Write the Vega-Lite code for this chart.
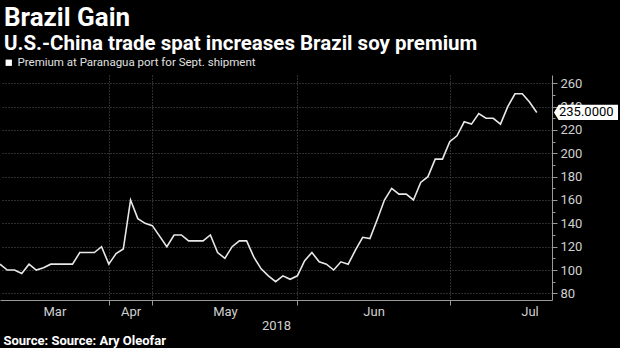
{
  "$schema": "https://vega.github.io/schema/vega-lite/v6.json",
  "width": 552,
  "height": 225,
  "autosize": {"type": "none"},
  "padding": {"left": 0, "top": 75, "right": 68, "bottom": 48},
  "background": "#000000",
  "config": {
    "view": {"stroke": null},
    "font": "Roboto"
  },
  "title": {
    "text": "Brazil Gain",
    "subtitle": "U.S.-China trade spat increases Brazil soy premium",
    "anchor": "start",
    "frame": "group",
    "dx": 4,
    "offset": 3,
    "font": "Roboto",
    "fontSize": 26,
    "fontWeight": "bold",
    "color": "#ffffff",
    "subtitleFont": "Roboto",
    "subtitleFontSize": 20.5,
    "subtitleFontWeight": "bold",
    "subtitleColor": "#ffffff",
    "subtitlePadding": 3
  },
  "data": {
    "values": [
      {"i": 0, "v": 105}, {"i": 1, "v": 100}, {"i": 2, "v": 100}, {"i": 3, "v": 97}, {"i": 4, "v": 105},
      {"i": 5, "v": 100}, {"i": 6, "v": 102}, {"i": 7, "v": 105}, {"i": 8, "v": 105}, {"i": 9, "v": 105},
      {"i": 10, "v": 105}, {"i": 11, "v": 115}, {"i": 12, "v": 115}, {"i": 13, "v": 115}, {"i": 14, "v": 120},
      {"i": 15, "v": 105}, {"i": 16, "v": 114}, {"i": 17, "v": 118}, {"i": 18, "v": 160}, {"i": 19, "v": 144},
      {"i": 20, "v": 140}, {"i": 21, "v": 138}, {"i": 22, "v": 129}, {"i": 23, "v": 120}, {"i": 24, "v": 130},
      {"i": 25, "v": 130}, {"i": 26, "v": 125}, {"i": 27, "v": 125}, {"i": 28, "v": 125}, {"i": 29, "v": 130},
      {"i": 30, "v": 115}, {"i": 31, "v": 110}, {"i": 32, "v": 120}, {"i": 33, "v": 125}, {"i": 34, "v": 125},
      {"i": 35, "v": 111}, {"i": 36, "v": 101}, {"i": 37, "v": 95}, {"i": 38, "v": 90}, {"i": 39, "v": 95},
      {"i": 40, "v": 92}, {"i": 41, "v": 95}, {"i": 42, "v": 108}, {"i": 43, "v": 115}, {"i": 44, "v": 107},
      {"i": 45, "v": 105}, {"i": 46, "v": 100}, {"i": 47, "v": 107}, {"i": 48, "v": 105}, {"i": 49, "v": 117},
      {"i": 50, "v": 128}, {"i": 51, "v": 127}, {"i": 52, "v": 143}, {"i": 53, "v": 160}, {"i": 54, "v": 170},
      {"i": 55, "v": 165}, {"i": 56, "v": 165}, {"i": 57, "v": 160}, {"i": 58, "v": 175}, {"i": 59, "v": 180},
      {"i": 60, "v": 195}, {"i": 61, "v": 195}, {"i": 62, "v": 210}, {"i": 63, "v": 215}, {"i": 64, "v": 227},
      {"i": 65, "v": 225}, {"i": 66, "v": 234}, {"i": 67, "v": 230}, {"i": 68, "v": 230}, {"i": 69, "v": 225},
      {"i": 70, "v": 240}, {"i": 71, "v": 251}, {"i": 72, "v": 251}, {"i": 73, "v": 244}, {"i": 74, "v": 235}
    ]
  },
  "resolve": {"axis": {"y": "independent"}},
  "layer": [
    {
      "mark": {"type": "line", "strokeWidth": 1.6, "clip": true},
      "encoding": {
        "x": {
          "field": "i",
          "type": "quantitative",
          "scale": {"domain": [0, 76.1], "nice": false, "zero": false},
          "axis": {
            "values": [7.5, 15, 18, 21, 31, 41, 51.5, 62, 73],
            "labelExpr": "datum.value == 7.5 ? 'Mar' : datum.value == 18 ? 'Apr' : datum.value == 31 ? 'May' : datum.value == 51.5 ? 'Jun' : datum.value == 73 ? 'Jul' : ''",
            "labelOverlap": false,
            "labelFlush": false,
            "labelBound": false,
            "labelFont": "Roboto",
            "labelFontSize": 13,
            "labelColor": "#d0d0d0",
            "labelPadding": 0,
            "domainColor": "#9a9a9a",
            "domainWidth": 1,
            "tickColor": "#9a9a9a",
            "tickSize": 5,
            "tickOpacity": {"condition": {"test": "indexof([15,21,41,62], datum.value) >= 0", "value": 1}, "value": 0},
            "grid": true,
            "gridColor": "#5a5a5a",
            "gridDash": [1, 2],
            "gridOpacity": {"condition": {"test": "indexof([15,21,41,62], datum.value) >= 0", "value": 1}, "value": 0},
            "title": "2018",
            "titleFont": "Roboto",
            "titleFontSize": 13,
            "titleFontWeight": "normal",
            "titleColor": "#d0d0d0",
            "titlePadding": 1
          }
        },
        "y": {
          "field": "v",
          "type": "quantitative",
          "scale": {"domain": [74.3, 267.1], "nice": false, "zero": false},
          "axis": {
            "orient": "right",
            "values": [80, 100, 120, 140, 160, 180, 200, 220, 240, 260],
            "labelOverlap": false,
            "labelFont": "Roboto",
            "labelFontSize": 13,
            "labelColor": "#d0d0d0",
            "labelPadding": 3,
            "domainColor": "#9a9a9a",
            "tickColor": "#9a9a9a",
            "tickSize": 5,
            "grid": true,
            "gridColor": "#5a5a5a",
            "gridDash": [1, 2],
            "title": "Source: Source: Ary Oleofar",
            "titleAngle": 0,
            "titleAlign": "left",
            "titleBaseline": "alphabetic",
            "titleX": -549,
            "titleY": 269,
            "titleFont": "Roboto",
            "titleFontSize": 13,
            "titleFontWeight": "bold",
            "titleColor": "#ffffff"
          }
        },
        "color": {
          "datum": "Premium at Paranagua port for Sept. shipment",
          "scale": {"range": ["#e8e8e8"]},
          "legend": {
            "orient": "none",
            "legendX": 3,
            "legendY": -18,
            "title": null,
            "padding": 0,
            "symbolType": "square",
            "symbolSize": 40,
            "symbolFillColor": "#ffffff",
            "symbolStrokeColor": "#ffffff",
            "symbolStrokeWidth": 0,
            "labelFont": "Roboto",
            "labelFontSize": 11.5,
            "labelColor": "#e0e0e0",
            "labelOffset": 3,
            "labelLimit": 500
          }
        }
      }
    },
    {
      "transform": [{"filter": "datum.i == 74"}],
      "mark": {
        "type": "point",
        "shape": "M0.06,0 L0.2,-0.23 L2,-0.23 L2,0.23 L0.2,0.23 Z",
        "size": 4356,
        "filled": true,
        "fill": "#ffffff",
        "stroke": null,
        "opacity": 1,
        "clip": false
      },
      "encoding": {
        "x": {"value": "width"},
        "y": {"field": "v", "type": "quantitative", "axis": null}
      }
    },
    {
      "transform": [{"filter": "datum.i == 74"}],
      "mark": {
        "type": "text",
        "align": "left",
        "baseline": "middle",
        "dx": 7,
        "font": "Roboto",
        "fontSize": 13,
        "color": "#000000",
        "clip": false
      },
      "encoding": {
        "x": {"value": "width"},
        "y": {
          "field": "v",
          "type": "quantitative",
          "axis": {
            "orient": "right",
            "values": [90, 110, 130, 150, 170, 190, 210, 230, 250],
            "labels": false,
            "domain": false,
            "grid": false,
            "ticks": true,
            "tickSize": 3,
            "tickColor": "#9a9a9a",
            "title": null
          }
        },
        "text": {"field": "v", "type": "quantitative", "format": ".4f"}
      }
    }
  ]
}
